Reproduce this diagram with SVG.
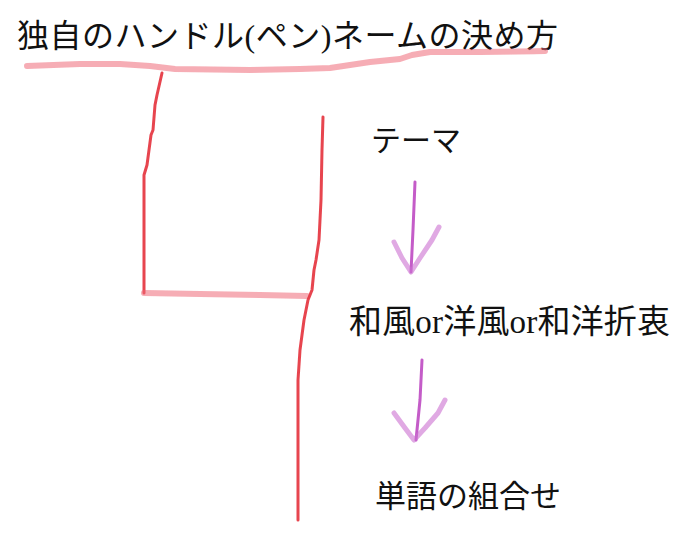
<svg xmlns="http://www.w3.org/2000/svg" width="687" height="533" viewBox="0 0 687 533">
<style>
.t{font-family:"Liberation Serif","Noto Sans CJK JP",serif;fill:#111;}
.pen{fill:none;stroke:#e4303c;stroke-width:3;stroke-linecap:round;stroke-linejoin:round;opacity:0.9}
.wide{fill:none;stroke:#ee6a78;stroke-width:6;stroke-linecap:round;stroke-linejoin:round;opacity:0.55}
.arr{fill:none;stroke:#c45cc8;stroke-width:3;stroke-linecap:round;stroke-linejoin:round}
.arrh{fill:none;stroke:#cc70d0;stroke-width:5;stroke-linecap:round;stroke-linejoin:round;opacity:0.6}
</style>
<defs>
<filter id="soft" x="-5%" y="-5%" width="110%" height="110%"><feGaussianBlur stdDeviation="0.6"/></filter>
</defs>
<rect width="687" height="533" fill="#fff"/>
<g id="title"><text class="t" x="17" y="47" font-size="32" textLength="541" lengthAdjust="spacing">独自のハンドル(ペン)ネームの決め方</text></g>
<g id="theme"><text class="t" x="371" y="151" font-size="30">テーマ</text></g>
<g id="style"><text class="t" x="349" y="333" font-size="33" textLength="321" lengthAdjust="spacing">和風or洋風or和洋折衷</text></g>
<g id="combine"><text class="t" x="375" y="507" font-size="31">単語の組合せ</text></g>
<g id="connectors" filter="url(#soft)">
<path class="wide" d="M27,66 L80,64 L120,64 L150,66 L175,69 L250,70 L300,69 L330,68 L370,62 L400,59 L412,55 L430,52 L480,52 L545,51"/>
<path class="pen" d="M162,73 L157,95 L155,105 L153,130 L151,135 L147,165 L144,175 L144,293"/>
<path class="wide" d="M144,293 L200,294 L260,295 L307,296"/>
<path class="pen" d="M323,117 L322,150 L321,200 L319,240 L316,260 L314,270 L312,290 L308,300 L304,320 L300,350 L298,380 L298,440 L298,520"/>
<path class="arr" d="M415,182 L413,230 L411,272"/>
<path class="arrh" d="M394,242 L402,258 L411,272 L420,258 L432,240 L439,227"/>
<path class="arr" d="M422,360 L420,400 L416,440"/>
<path class="arrh" d="M394,413 L405,428 L414,440 L425,428 L438,413 L445,400"/>
</g>
</svg>
